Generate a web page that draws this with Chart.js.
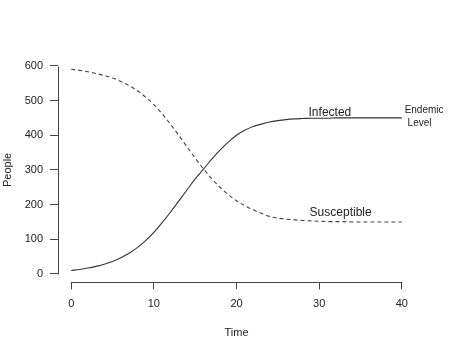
<!DOCTYPE html>
<html><head><meta charset="utf-8">
<script src="https://cdn.jsdelivr.net/npm/chart.js@4"></script>
<style>html,body{margin:0;padding:0;background:#fff;}canvas{display:block;}</style>
</head><body>
<canvas id="c" width="474" height="355"></canvas>
<script>
const time = [0,1,2,3,4,5,6,7,8,9,10,11,12,13,14,15,16,17,18,19,20,21,22,23,24,25,26,27,28,29,30,31,32,33,34,35,36,37,38,39,40];
const infected = [10,13,17,22,28,36,47,60,76,96,120,148,178,210,242,274,302,331,357,380,400,414,425,432,438,442,445,447,448,449,449,449,450,450,450,450,450,450,450,450,450];
const susceptible = [590,587,583,578,572,565,555,543,528,510,488,462,432,400,367,334,303,275,250,229,211,197,185,175,166,161,158,156,154,153,152,151,151,151,150,150,150,150,150,150,150];
const xTickValues = [0,10,20,30,40];
const yTickValues = [0,100,200,300,400,500,600];
const xTitle = 'Time';
const yTitle = 'People';
const curveNames = ['Infected','Susceptible'];
const endemicText = ['Endemic','Level'];

const FONT = '"Liberation Sans", Arial, Helvetica, sans-serif';

const decor = {
  id: 'decor',
  afterDraw(chart) {
    const {ctx, chartArea: a, scales: {x, y}} = chart;
    ctx.save();
    ctx.strokeStyle = '#444';
    ctx.lineWidth = 1;
    ctx.beginPath();
    const yb = Math.round(a.bottom) + 0.5;
    ctx.moveTo(Math.round(x.getPixelForValue(xTickValues[0])) + 0.5, yb);
    ctx.lineTo(Math.round(x.getPixelForValue(xTickValues[xTickValues.length - 1])) + 0.5, yb);
    const xl = Math.round(a.left) + 0.5;
    ctx.moveTo(xl, Math.round(y.getPixelForValue(yTickValues[0])) + 0.5);
    ctx.lineTo(xl, Math.round(y.getPixelForValue(yTickValues[yTickValues.length - 1])) + 0.5);
    ctx.stroke();

    ctx.fillStyle = '#222';
    ctx.textBaseline = 'middle';
    ctx.textAlign = 'center';
    ctx.font = '11px ' + FONT;
    ctx.fillText(xTitle, (a.left + a.right) / 2, a.bottom + 50.5);
    ctx.save();
    ctx.translate(a.left - 50, (a.top + a.bottom) / 2);
    ctx.rotate(-Math.PI / 2);
    ctx.fillText(yTitle, 0, 0);
    ctx.restore();

    ctx.font = '12px ' + FONT;
    ctx.fillText(curveNames[0], x.getPixelForValue(31.3), y.getPixelForValue(464));
    ctx.fillText(curveNames[1], x.getPixelForValue(32.6), y.getPixelForValue(176));
    ctx.font = '10px ' + FONT;
    ctx.fillText(endemicText[0], x.getPixelForValue(42.7), y.getPixelForValue(473));
    ctx.fillText(endemicText[1], x.getPixelForValue(42.15), y.getPixelForValue(435));
    ctx.restore();
  }
};

new Chart(document.getElementById('c'), {
  type: 'line',
  data: {
    labels: time,
    datasets: [
      {
        label: curveNames[0],
        data: time.map((t, i) => ({x: t, y: infected[i]})),
        borderColor: '#333',
        borderWidth: 1.1,
        pointRadius: 0,
        fill: false,
        cubicInterpolationMode: 'monotone'
      },
      {
        label: curveNames[1],
        data: time.map((t, i) => ({x: t, y: susceptible[i]})),
        borderColor: '#444',
        borderWidth: 1.1,
        borderDash: [4, 3],
        pointRadius: 0,
        fill: false,
        cubicInterpolationMode: 'monotone'
      }
    ]
  },
  options: {
    responsive: false,
    devicePixelRatio: 1,
    animation: false,
    events: [],
    layout: {padding: {left: 0, top: 57.5, right: 59, bottom: 32.7}},
    plugins: {legend: {display: false}, tooltip: {enabled: false}, title: {display: false}},
    scales: {
      x: {
        type: 'linear',
        min: -1.6,
        max: 41.6,
        afterBuildTicks: s => { s.ticks = xTickValues.map(v => ({value: v})); },
        afterFit: s => { s.height = 40; },
        border: {display: false},
        grid: {display: true, drawOnChartArea: false, drawTicks: true, tickLength: 7, color: '#444', lineWidth: 1},
        ticks: {autoSkip: false, maxRotation: 0, padding: 8, color: '#222', font: {family: FONT, size: 11}, callback: v => String(v)}
      },
      y: {
        type: 'linear',
        min: -24,
        max: 624,
        afterBuildTicks: s => { s.ticks = yTickValues.map(v => ({value: v})); },
        afterFit: s => { s.width = 58; },
        border: {display: false},
        grid: {display: true, drawOnChartArea: false, drawTicks: true, tickLength: 8, color: '#444', lineWidth: 1},
        ticks: {autoSkip: false, padding: 7, color: '#222', font: {family: FONT, size: 11}, callback: v => String(v)}
      }
    }
  },
  plugins: [decor]
});
</script>
</body></html>
